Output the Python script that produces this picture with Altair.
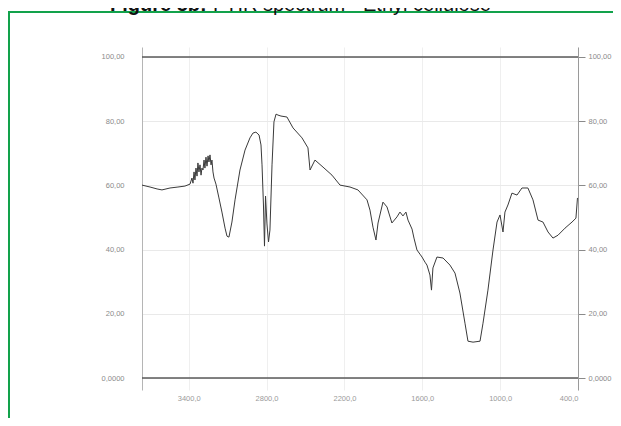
import altair as alt
import pandas as pd

# Wavenumber (cm-1) and transmittance (%T)
wavenumber = [3760, 3698, 3644, 3606, 3544, 3483, 3429, 3390, 3375, 3367, 3359, 3352, 3344, 3336,
              3329, 3321, 3313, 3305, 3298, 3290, 3282, 3275, 3267, 3259, 3251, 3244, 3236, 3228,
              3221, 3213, 3205, 3190, 3167, 3144, 3120, 3105, 3090, 3067, 3043, 3005, 2966, 2928,
              2905, 2882, 2858, 2843, 2835, 2824, 2816, 2808, 2797, 2785, 2774, 2758, 2743, 2727,
              2712, 2689, 2643, 2596, 2527, 2481, 2465, 2427, 2365, 2296, 2234, 2157, 2096, 2026,
              2003, 1980, 1957, 1941, 1903, 1872, 1834, 1795, 1772, 1749, 1726, 1710, 1679, 1664,
              1641, 1618, 1602, 1579, 1564, 1541, 1529, 1518, 1487, 1440, 1387, 1348, 1310, 1271,
              1248, 1209, 1155, 1132, 1094, 1055, 1024, 1001, 978, 963, 940, 909, 870, 832, 786,
              747, 708, 670, 631, 593, 554, 500, 446, 416, 404]
transmittance = [60.1, 59.5, 58.9, 58.6, 59.2, 59.5, 59.8, 60.4, 62.3, 60.7, 64.2, 61.7, 65.4, 62.9,
                 67.0, 64.2, 66.4, 63.2, 65.4, 64.8, 67.9, 65.4, 68.8, 66.0, 69.2, 67.3, 69.5, 66.4,
                 67.9, 64.2, 62.3, 60.4, 56.1, 51.7, 46.7, 44.2, 43.9, 48.6, 55.5, 64.8, 71.0, 74.8,
                 76.3, 76.6, 75.7, 72.6, 66.4, 53.9, 41.1, 56.7, 48.0, 42.4, 46.1, 66.4, 79.8, 82.2,
                 81.9, 81.6, 81.3, 77.9, 74.8, 71.7, 64.8, 67.9, 65.7, 63.2, 60.1, 59.5, 58.6, 55.5,
                 52.3, 47.0, 43.0, 48.3, 54.8, 53.3, 48.3, 50.2, 51.7, 50.5, 51.7, 49.2, 46.4, 43.6,
                 39.9, 38.6, 37.7, 36.1, 35.2, 32.1, 27.4, 34.3, 37.7, 37.4, 35.2, 32.7, 26.5, 17.1,
                 11.5, 11.2, 11.5, 17.1, 27.4, 39.9, 48.6, 50.8, 45.5, 51.7, 53.9, 57.6, 57.0, 59.2,
                 59.2, 55.5, 49.2, 48.6, 45.5, 43.6, 44.5, 46.7, 48.6, 49.8, 56.1]

x_ticks = [3400, 2800, 2200, 1600, 1000, 400]
y_ticks = [0, 20, 40, 60, 80, 100]
frame_levels = [0, 100]
title_bold = "Figure 5b:"
title_rest = "FTIR spectrum - Ethyl cellulose"

df = pd.DataFrame({"wn": wavenumber, "t": transmittance, "i": range(len(wavenumber))})
levels = pd.DataFrame({"t": frame_levels})

xscale = alt.Scale(domain=[3760, 400], nice=False, zero=False)
yscale = alt.Scale(domain=[-3.7, 103.1], nice=False, zero=False)

ylab = "datum.value == 0 ? '0,0000' : replace(format(datum.value, '.2f'), '.', ',')"

spectrum = alt.Chart(df).mark_line(color="#3a3a3a", strokeWidth=1).encode(
    x=alt.X("wn:Q", scale=xscale, title=None,
            axis=alt.Axis(values=x_ticks, labelExpr="replace(format(datum.value, '.1f'), '.', ',')",
                          domain=False, ticks=False, labelPadding=4, labelFontSize=7.5,
                          labelColor="#9a9a9a", labelFont="Liberation Sans",
                          grid=True, gridColor="#efefef")),
    y=alt.Y("t:Q", scale=yscale, title=None,
            axis=alt.Axis(values=y_ticks, labelExpr=ylab, orient="left", domain=True,
                          domainColor="#b5b5b5", ticks=False, labelPadding=18, labelFontSize=7.5,
                          labelColor="#8a8a8a", labelFont="Liberation Sans",
                          grid=True, gridColor="#e9e9e9")),
    order="i:Q",
)

frame_lines = alt.Chart(levels).mark_rule(color="#5a5a5a", strokeWidth=1.5).encode(
    y=alt.Y("t:Q", scale=yscale, title=None,
            axis=alt.Axis(values=y_ticks, labelExpr=ylab, orient="right", domain=True,
                          domainColor="#9a9a9a", ticks=True, tickColor="#8a8a8a", tickSize=7,
                          labelPadding=3, labelFontSize=7.5, labelColor="#8a8a8a",
                          labelFont="Liberation Sans", grid=False)),
)

blank = alt.Data(values=[{}])
border = alt.Chart(blank).mark_rect(fillOpacity=0, stroke="#12a24b", strokeWidth=2).encode(
    x=alt.value(-133), x2=alt.value(700), y=alt.value(-35), y2=alt.value(600)
)
t1 = alt.Chart(blank).mark_text(align="left", baseline="alphabetic", fontSize=20,
                                font="Liberation Sans", fontWeight="bold", color="#111").encode(
    x=alt.value(-32), y=alt.value(-36.5), text=alt.value(title_bold)
)
t2 = alt.Chart(blank).mark_text(align="left", baseline="alphabetic", fontSize=20,
                                font="Liberation Sans", color="#111").encode(
    x=alt.value(71), y=alt.value(-36.5), text=alt.value(title_rest)
)

chart = alt.layer(border, spectrum, frame_lines, t1, t2).resolve_axis(y="independent").properties(
    width=436, height=343,
    padding={"left": 134, "top": 39, "right": 35, "bottom": 28},
    autosize=alt.AutoSizeParams(type="none"),
    background="white",
).configure_view(strokeWidth=0)

chart.save("out.html", embed_options={"renderer": "svg", "actions": False})
